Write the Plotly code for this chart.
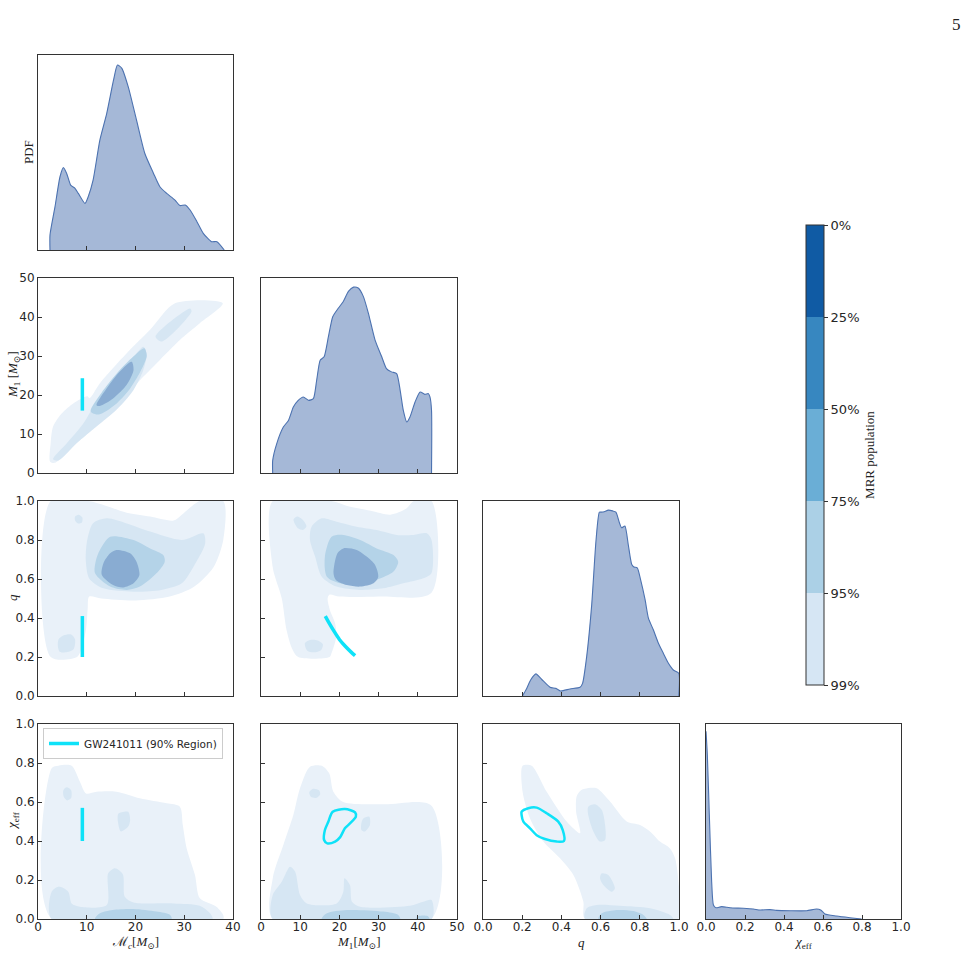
import plotly.graph_objects as go

# ---------------- data ----------------
# diagonal 1D densities (relative PDF)
mc_kde_x = [2.46, 2.46, 3.49, 4.51, 5.2, 5.88, 6.7, 7.59, 8.27, 9.64, 10.3, 11.3, 12.7, 14.1, 15.5, 16.3,
            17.2, 18.5, 20.2, 21.9, 23.7, 25.0, 26.4, 28.1, 29.1, 30.2, 31.2, 32.6, 33.9, 35.6, 36.7, 38.2]
mc_kde_y = [0, 0.081, 0.234, 0.396, 0.445, 0.414, 0.351, 0.333, 0.306, 0.252, 0.288, 0.378, 0.595, 0.739,
            0.919, 1.0, 0.982, 0.883, 0.703, 0.523, 0.414, 0.342, 0.306, 0.27, 0.24, 0.243, 0.216, 0.153,
            0.09, 0.045, 0.045, 0.0]
m1_kde_x = [2.98, 2.98, 4.0, 5.7, 7.0, 8.25, 9.5, 10.8, 12.1, 13.35, 14.2, 15.1, 16.1, 17.2, 18.3, 19.7,
            21.0, 22.3, 23.6, 24.8, 26.1, 27.4, 29.1, 30.8, 32.0, 33.3, 34.6, 35.5, 36.3, 37.2, 38.0, 39.3,
            40.6, 41.8, 42.7, 43.1, 43.5, 43.5]
m1_kde_y = [0, 0.067, 0.157, 0.247, 0.283, 0.355, 0.391, 0.409, 0.391, 0.4, 0.499, 0.607, 0.625, 0.733,
            0.841, 0.886, 0.923, 0.977, 1.0, 0.995, 0.95, 0.859, 0.715, 0.625, 0.562, 0.544, 0.535, 0.445,
            0.337, 0.274, 0.301, 0.382, 0.436, 0.423, 0.427, 0.409, 0.337, 0]
q_kde_x = [0.201, 0.223, 0.243, 0.27, 0.299, 0.342, 0.372, 0.396, 0.444, 0.495, 0.508, 0.529, 0.554, 0.577,
           0.594, 0.605, 0.622, 0.639, 0.661, 0.678, 0.696, 0.707, 0.724, 0.741, 0.759, 0.77, 0.787, 0.804,
           0.827, 0.844, 0.869, 0.895, 0.92, 0.946, 0.971, 0.999, 0.999]
q_kde_y = [0, 0.041, 0.086, 0.119, 0.09, 0.047, 0.041, 0.027, 0.038, 0.047, 0.068, 0.212, 0.482, 0.842,
           0.989, 0.989, 0.993, 1.0, 0.996, 0.989, 0.932, 0.905, 0.914, 0.815, 0.707, 0.694, 0.689, 0.626,
           0.518, 0.419, 0.356, 0.284, 0.23, 0.176, 0.14, 0.122, 0]
chi_kde_x = [0.0, 0.0068, 0.017, 0.029, 0.038, 0.051, 0.080, 0.123, 0.191, 0.243, 0.277, 0.328, 0.362,
             0.431, 0.516, 0.567, 0.588, 0.610, 0.670, 0.738, 0.798]
chi_kde_y = [1.0, 0.875, 0.555, 0.199, 0.075, 0.06, 0.066, 0.06, 0.057, 0.053, 0.048, 0.05, 0.046, 0.044,
             0.044, 0.053, 0.048, 0.027, 0.016, 0.007, 0.0]

# 2D credible-region outlines of the MRR population (x, y) pairs
mc_m1_99 = [(2.5, 2.9), (2.6, 7.6), (3.1, 11.9), (4.9, 15.3), (7.3, 17.9), (10.1, 19.7), (10.6, 19.2),
            (12.7, 23.0), (18.2, 30.7), (23.0, 36.7), (28.1, 43.5), (37.9, 43.5), (33.2, 38.4),
            (29.1, 34.1), (25.0, 29.0), (19.6, 22.1), (14.1, 14.4), (7.9, 7.6), (3.5, 2.6)]
mc_m1_95 = [(3.1, 3.5), (5.9, 7.6), (9.3, 12.7), (11.0, 16.2), (12.7, 19.6), (16.1, 24.7), (19.6, 29.8),
            (21.6, 32.4), (22.3, 30.7), (21.6, 26.4), (19.6, 21.3), (16.1, 16.2), (12.0, 11.9),
            (7.9, 7.6), (4.2, 3.2)]
mc_m1_95b = [(24.1, 35.0), (31.2, 42.2), (31.5, 41.4), (25.4, 33.7)]
mc_m1_75 = [(10.8, 15.8), (13.0, 20.5), (16.5, 26.0), (19.5, 29.8), (21.8, 32.0), (22.3, 30.0),
            (21.0, 26.0), (18.8, 21.5), (15.8, 17.5), (12.5, 15.0)]
mc_m1_50 = [(12.0, 17.4), (14.1, 21.7), (16.8, 26.0), (19.2, 28.5), (19.6, 26.4), (18.2, 22.6),
            (15.4, 19.1), (12.7, 17.2)]

mc_q_99 = [(2.6, 1.0), (10.3, 1.0), (14.0, 0.975), (18.2, 0.94), (23.0, 0.92), (27.8, 0.9), (29.5, 0.93),
           (33.2, 1.0), (38.0, 1.0), (38.0, 0.8), (36.0, 0.66), (32.0, 0.56), (27.0, 0.51), (20.0, 0.49),
           (13.0, 0.5), (10.5, 0.51), (10.2, 0.45), (9.9, 0.35), (9.0, 0.25), (8.0, 0.2), (2.6, 0.2)]
mc_q_95 = [(10.1, 0.8), (11.3, 0.886), (14.1, 0.911), (18.2, 0.885), (23.0, 0.843), (29.5, 0.8),
           (33.9, 0.834), (34.3, 0.783), (31.9, 0.663), (29.5, 0.578), (25.3, 0.544), (19.6, 0.535),
           (13.4, 0.552), (10.5, 0.603), (9.8, 0.697)]
mc_q_95b = [(7.6, 0.92), (8.3, 0.93), (9.1, 0.915), (9.0, 0.89), (8.2, 0.885), (7.6, 0.9)]
mc_q_95c = [(4.2, 0.29), (5.2, 0.31), (6.8, 0.315), (7.6, 0.29), (7.3, 0.24), (6.0, 0.225), (4.5, 0.225),
            (4.1, 0.25)]
mc_q_75 = [(12.7, 0.749), (14.8, 0.817), (19.6, 0.8), (23.0, 0.757), (25.7, 0.723), (26.0, 0.689),
           (24.3, 0.629), (20.9, 0.561), (18.2, 0.544), (14.8, 0.561), (11.7, 0.629), (11.9, 0.697)]
mc_q_50 = [(13.4, 0.68), (14.8, 0.732), (16.1, 0.749), (18.9, 0.732), (20.2, 0.689), (20.8, 0.62),
           (19.6, 0.578), (17.5, 0.557), (15.4, 0.569), (13.1, 0.62)]

mc_chi_99 = [(2.8, 0.0), (2.8, 0.773), (4.2, 0.786), (6.9, 0.786), (8.6, 0.704), (9.85, 0.644),
             (12.0, 0.653), (16.1, 0.653), (20.9, 0.619), (26.4, 0.593), (29.1, 0.576), (29.7, 0.482),
             (30.5, 0.362), (32.2, 0.226), (33.2, 0.106), (36.6, 0.063), (38.0, 0.02), (38.0, 0.0)]
mc_chi_95 = [(2.8, 0.0), (2.8, 0.14), (4.2, 0.166), (6.2, 0.14), (6.9, 0.08), (8.6, 0.063), (14.1, 0.072),
             (14.4, 0.234), (15.8, 0.26), (17.4, 0.229), (17.8, 0.114), (19.6, 0.085), (27.8, 0.08),
             (33.2, 0.068), (35.3, 0.029), (35.8, 0.0)]
mc_chi_95b = [(5.2, 0.66), (5.9, 0.675), (6.8, 0.66), (6.8, 0.62), (6.0, 0.608), (5.3, 0.625)]
mc_chi_95c = [(16.5, 0.541), (18.5, 0.55), (18.9, 0.508), (18.5, 0.474), (17.0, 0.449), (16.4, 0.499)]
mc_chi_75 = [(11.7, 0.0), (12.7, 0.029), (15.3, 0.046), (19.6, 0.051), (24.3, 0.038), (27.1, 0.021),
             (27.4, 0.0)]

m1_q_99 = [(3.0, 1.0), (18.0, 1.0), (22.0, 0.975), (28.0, 0.95), (33.0, 0.93), (37.0, 0.96), (39.0, 1.0),
           (43.5, 1.0), (43.5, 0.53), (30.0, 0.51), (20.0, 0.51), (17.5, 0.52), (17.0, 0.5), (17.6, 0.44),
           (18.9, 0.373), (19.2, 0.304), (18.0, 0.22), (17.5, 0.2), (9.5, 0.2), (8.0, 0.24), (6.5, 0.34),
           (5.3, 0.5), (3.6, 0.61), (3.0, 0.66)]
m1_q_95 = [(12.9, 0.868), (15.5, 0.911), (19.3, 0.894), (24.4, 0.868), (29.5, 0.851), (34.6, 0.826),
           (38.9, 0.826), (42.3, 0.834), (43.5, 0.8), (43.5, 0.63), (41.4, 0.604), (36.3, 0.578),
           (31.2, 0.552), (25.3, 0.544), (19.3, 0.561), (15.5, 0.612), (13.8, 0.715), (12.5, 0.8)]
m1_q_95b = [(8.3, 0.905), (9.3, 0.92), (10.8, 0.9), (11.6, 0.87), (10.8, 0.852), (9.4, 0.86)]
m1_q_95c = [(11.2, 0.27), (12.5, 0.287), (14.5, 0.285), (15.8, 0.265), (15.3, 0.235), (13.5, 0.224),
            (11.8, 0.232)]
m1_q_75 = [(16.3, 0.715), (18.0, 0.817), (21.0, 0.826), (25.3, 0.8), (29.5, 0.757), (33.8, 0.723),
           (35.0, 0.689), (33.8, 0.638), (29.5, 0.595), (25.3, 0.569), (20.2, 0.578), (16.8, 0.612)]
m1_q_50 = [(18.5, 0.629), (19.5, 0.732), (21.0, 0.757), (24.4, 0.749), (26.95, 0.715), (29.1, 0.672),
           (29.9, 0.61), (28.7, 0.578), (25.3, 0.561), (21.9, 0.569), (19.1, 0.595)]

m1_chi_99 = [(3.0, 0.0), (3.0, 0.209), (5.7, 0.379), (8.25, 0.533), (9.95, 0.67), (12.5, 0.781),
             (15.5, 0.786), (17.4, 0.747), (18.45, 0.653), (21.0, 0.6), (31.2, 0.588), (43.5, 0.581),
             (43.5, 0.0)]
m1_chi_95 = [(3.0, 0.0), (3.0, 0.123), (5.3, 0.191), (7.4, 0.268), (8.7, 0.243), (9.95, 0.123),
             (11.7, 0.08), (19.3, 0.08), (21.0, 0.14), (21.3, 0.209), (22.7, 0.174), (23.2, 0.089),
             (25.3, 0.063), (38.0, 0.068), (41.4, 0.089), (43.5, 0.097), (43.5, 0.0)]
m1_chi_95b = [(12.3, 0.65), (13.3, 0.668), (14.8, 0.66), (15.1, 0.64), (14.2, 0.622), (12.8, 0.625)]
m1_chi_95c = [(26.1, 0.516), (27.6, 0.525), (27.8, 0.482), (26.5, 0.449), (25.6, 0.457), (25.6, 0.491)]
m1_chi_75 = [(15.5, 0.0), (16.8, 0.029), (21.9, 0.046), (31.2, 0.038), (35.0, 0.021), (35.5, 0.0)]
m1_chi_75b = [(39.5, 0.0), (40.2, 0.015), (42.5, 0.015), (43.0, 0.0)]

q_chi_99 = [(0.202, 0.786), (0.248, 0.786), (0.325, 0.653), (0.427, 0.5), (0.495, 0.44), (0.475, 0.55),
            (0.478, 0.63), (0.50, 0.66), (0.52, 0.668), (0.58, 0.67), (0.648, 0.602), (0.733, 0.5),
            (0.801, 0.482), (0.852, 0.449), (0.903, 0.397), (0.954, 0.362), (0.98, 0.311),
            (0.997, 0.191), (0.997, 0.0), (0.52, 0.0), (0.512, 0.089), (0.461, 0.226), (0.393, 0.311),
            (0.308, 0.397), (0.24, 0.516), (0.202, 0.653)]
q_chi_95 = [(0.52, 0.0), (0.529, 0.055), (0.58, 0.072), (0.699, 0.068), (0.852, 0.055), (0.954, 0.021),
            (0.971, 0.0)]
q_chi_95b = [(0.537, 0.576), (0.571, 0.588), (0.606, 0.559), (0.623, 0.482), (0.623, 0.405),
             (0.597, 0.397), (0.563, 0.449), (0.537, 0.533)]
q_chi_95c = [(0.606, 0.234), (0.639, 0.226), (0.673, 0.157), (0.656, 0.14), (0.614, 0.174), (0.597, 0.209)]
q_chi_75 = [(0.589, 0.0), (0.606, 0.029), (0.682, 0.046), (0.767, 0.041), (0.818, 0.021), (0.835, 0.0)]

# GW241011 90% credible region
gw_mc = [9.1, 9.1]
gw_m1_vs_mc = [16.0, 24.3]
gw_q_vs_mc = [0.2, 0.41]
gw_chi_vs_mc = [0.4, 0.57]
gw_m1_curve = [16.4, 17.5, 18.7, 20.0, 21.5, 23.0, 24.0]
gw_q_curve = [0.41, 0.37, 0.33, 0.29, 0.255, 0.225, 0.207]
gw_m1_chi = [(18.3, 0.55), (21.4, 0.564), (24.0, 0.547), (24.2, 0.525), (22.7, 0.49), (21.4, 0.465),
             (20.2, 0.42), (18.9, 0.397), (16.9, 0.388), (16.1, 0.405), (16.3, 0.456), (17.2, 0.5)]
gw_q_chi = [(0.197, 0.55), (0.231, 0.568), (0.274, 0.571), (0.325, 0.542), (0.384, 0.499), (0.407, 0.456),
            (0.413, 0.4), (0.376, 0.397), (0.316, 0.41), (0.274, 0.43), (0.24, 0.465), (0.206, 0.499),
            (0.197, 0.533)]

cbar_ticktext = ['99%', '95%', '75%', '50%', '25%', '0%']
cbar_colors = ['#d6e6f4', '#abd0e6', '#6aaed6', '#3787c0', '#105ba4']

axis_ranges = [[0, 40], [0, 50], [0, 1], [0, 1]]
axis_ticks = [[0, 10, 20, 30, 40], [0, 10, 20, 30, 40, 50], [0, 0.2, 0.4, 0.6, 0.8, 1.0],
              [0, 0.2, 0.4, 0.6, 0.8, 1.0]]
diag_tops = [1.054, 1.049, 1.049, 1.039]

# ---------------- styling ----------------
W, H = 973, 954
LV = {99: 'rgb(233,241,249)', 95: 'rgb(214,230,243)', 75: 'rgb(180,211,232)', 50: 'rgb(137,172,210)'}
CYAN = '#0ee2f8'
KDE_LINE = '#4c72b0'
KDE_FILL = 'rgba(76,114,176,0.5)'
FRAME = '#333333'
TICKFONT = dict(family='DejaVu Sans', size=12, color='#262626')
SERIF = 'Liberation Serif, DejaVu Serif, serif'

xdom_px = [[38, 233], [261, 457], [483, 679], [706, 901]]
ydom_px = [[55, 250], [278, 473], [501, 696], [724, 919]]

panels = [(0, 0), (1, 0), (1, 1), (2, 0), (2, 1), (2, 2), (3, 0), (3, 1), (3, 2), (3, 3)]
pid = {rc: i + 1 for i, rc in enumerate(panels)}

fig = go.Figure()


def axref(r, c):
    k = pid[(r, c)]
    return ('x' if k == 1 else f'x{k}'), ('y' if k == 1 else f'y{k}')


def poly(r, c, pts, color):
    xa, ya = axref(r, c)
    xs = [p[0] for p in pts] + [pts[0][0]]
    ys = [p[1] for p in pts] + [pts[0][1]]
    fig.add_trace(go.Scatter(x=xs, y=ys, mode='lines', fill='toself', fillcolor=color,
                             line=dict(width=0, shape='spline', smoothing=0.8), hoverinfo='skip',
                             showlegend=False, xaxis=xa, yaxis=ya))


def kde(r, c, xs, ys):
    xa, ya = axref(r, c)
    fig.add_trace(go.Scatter(x=xs, y=ys, mode='lines', fill='tozeroy', fillcolor=KDE_FILL,
                             line=dict(color=KDE_LINE, width=1.1, shape='spline', smoothing=0.6),
                             hoverinfo='skip', showlegend=False, xaxis=xa, yaxis=ya))


def gwline(r, c, xs, ys, closed=False, legend=False, width=3.5):
    xa, ya = axref(r, c)
    if closed:
        xs = list(xs) + [xs[0]]
        ys = list(ys) + [ys[0]]
    fig.add_trace(go.Scatter(x=xs, y=ys, mode='lines',
                             line=dict(color=CYAN, width=width, shape='spline', smoothing=0.8),
                             name='GW241011 (90% Region)', showlegend=legend, legendgroup='gw',
                             hoverinfo='skip', xaxis=xa, yaxis=ya))


# diagonal
kde(0, 0, mc_kde_x, mc_kde_y)
kde(1, 1, m1_kde_x, m1_kde_y)
kde(2, 2, q_kde_x, q_kde_y)
kde(3, 3, chi_kde_x, chi_kde_y)

# Mc - M1
poly(1, 0, mc_m1_99, LV[99])
poly(1, 0, mc_m1_95, LV[95])
poly(1, 0, mc_m1_95b, LV[95])
poly(1, 0, mc_m1_75, LV[75])
poly(1, 0, mc_m1_50, LV[50])
gwline(1, 0, gw_mc, gw_m1_vs_mc)

# Mc - q
poly(2, 0, mc_q_99, LV[99])
poly(2, 0, mc_q_95, LV[95])
poly(2, 0, mc_q_95b, LV[95])
poly(2, 0, mc_q_95c, LV[95])
poly(2, 0, mc_q_75, LV[75])
poly(2, 0, mc_q_50, LV[50])
gwline(2, 0, gw_mc, gw_q_vs_mc)

# Mc - chi
poly(3, 0, mc_chi_99, LV[99])
poly(3, 0, mc_chi_95, LV[95])
poly(3, 0, mc_chi_95b, LV[95])
poly(3, 0, mc_chi_95c, LV[95])
poly(3, 0, mc_chi_75, LV[75])
gwline(3, 0, gw_mc, gw_chi_vs_mc, legend=True)

# M1 - q
poly(2, 1, m1_q_99, LV[99])
poly(2, 1, m1_q_95, LV[95])
poly(2, 1, m1_q_95b, LV[95])
poly(2, 1, m1_q_95c, LV[95])
poly(2, 1, m1_q_75, LV[75])
poly(2, 1, m1_q_50, LV[50])
gwline(2, 1, gw_m1_curve, gw_q_curve)

# M1 - chi
poly(3, 1, m1_chi_99, LV[99])
poly(3, 1, m1_chi_95, LV[95])
poly(3, 1, m1_chi_95b, LV[95])
poly(3, 1, m1_chi_95c, LV[95])
poly(3, 1, m1_chi_75, LV[75])
poly(3, 1, m1_chi_75b, LV[75])
gwline(3, 1, [p[0] for p in gw_m1_chi], [p[1] for p in gw_m1_chi], closed=True, width=2.5)

# q - chi
poly(3, 2, q_chi_99, LV[99])
poly(3, 2, q_chi_95, LV[95])
poly(3, 2, q_chi_95b, LV[95])
poly(3, 2, q_chi_95c, LV[95])
poly(3, 2, q_chi_75, LV[75])
gwline(3, 2, [p[0] for p in gw_q_chi], [p[1] for p in gw_q_chi], closed=True, width=2.5)

# colorbar (discrete levels)
n = len(cbar_colors)
cscale = []
for i, col in enumerate(cbar_colors):
    cscale.append([i / n, col])
    cscale.append([(i + 1) / n, col])
fig.add_trace(go.Scatter(
    x=[None], y=[None], mode='markers', showlegend=False, hoverinfo='skip', xaxis='x', yaxis='y',
    marker=dict(color=[0], cmin=0, cmax=n, colorscale=cscale, showscale=True,
                colorbar=dict(thickness=18, thicknessmode='pixels', len=460, lenmode='pixels',
                              x=806 / W, xanchor='left', xpad=0, y=1 - 455 / H, yanchor='middle', ypad=0,
                              outlinewidth=1, outlinecolor=FRAME,
                              tickvals=list(range(n + 1)), ticktext=cbar_ticktext,
                              ticks='outside', ticklen=4, tickcolor=FRAME,
                              tickfont=dict(family='DejaVu Sans', size=13, color='#262626'),
                              title=dict(text='MRR population', side='right',
                                         font=dict(family=SERIF, size=13, color='#222'))))))

layout = dict(width=W, height=H, margin=dict(l=0, r=0, t=0, b=0, pad=0, autoexpand=False),
              paper_bgcolor='white', plot_bgcolor='white', showlegend=True,
              legend=dict(x=43 / W, y=1 - 728 / H, xanchor='left', yanchor='top', bgcolor='white',
                          bordercolor='#cccccc', borderwidth=1, font=dict(family='DejaVu Sans', size=10.5,
                                                                          color='#262626'),
                          itemwidth=30, tracegroupgap=0))

for (r, c) in panels:
    k = pid[(r, c)]
    xn = 'xaxis' if k == 1 else f'xaxis{k}'
    yn = 'yaxis' if k == 1 else f'yaxis{k}'
    xd = [xdom_px[c][0] / W, xdom_px[c][1] / W]
    yd = [1 - ydom_px[r][1] / H, 1 - ydom_px[r][0] / H]
    common = dict(showline=True, mirror=True, linecolor=FRAME, linewidth=1, showgrid=False,
                  zeroline=False, ticks='inside', ticklen=4, tickcolor=FRAME, tickfont=TICKFONT,
                  automargin=False)
    xax = dict(common, domain=xd, range=axis_ranges[c], tickvals=axis_ticks[c],
               showticklabels=(r == 3), anchor=('y' if k == 1 else f'y{k}'))
    if r == 3:
        xax['ticklabelstandoff'] = -3
    if c >= 2:
        xax['tickformat'] = '.1f'
    if r == c:
        yax = dict(common, domain=yd, range=[0, diag_tops[r]], showticklabels=False, ticks='',
                   anchor=('x' if k == 1 else f'x{k}'))
    else:
        yax = dict(common, domain=yd, range=axis_ranges[r], tickvals=axis_ticks[r],
                   showticklabels=(c == 0), anchor=('x' if k == 1 else f'x{k}'))
        if r >= 2:
            yax['tickformat'] = '.1f'
    layout[xn] = xax
    layout[yn] = yax

fig.update_layout(**layout)

# axis titles
tfont = dict(family=SERIF, size=13, color='#222')
ann = [
    dict(text='PDF', x=28 / W, y=1 - 152 / H, textangle=-90),
    dict(text='<i>M</i><sub>1</sub> [<i>M</i><sub>⊙</sub>]', x=13 / W, y=1 - 375 / H, textangle=-90),
    dict(text='<i>q</i>', x=12 / W, y=1 - 598 / H, textangle=-90),
    dict(text='<i>χ</i><sub>eff</sub>', x=12 / W, y=1 - 821 / H, textangle=-90),
    dict(text='ℳ<sub><i>c</i></sub>[<i>M</i><sub>⊙</sub>]', x=135 / W, y=1 - 942 / H),
    dict(text='<i>M</i><sub>1</sub>[<i>M</i><sub>⊙</sub>]', x=359 / W, y=1 - 942 / H),
    dict(text='<i>q</i>', x=581 / W, y=1 - 942 / H),
    dict(text='<i>χ</i><sub>eff</sub>', x=803 / W, y=1 - 942 / H),
]
for a in ann:
    fig.add_annotation(xref='paper', yref='paper', showarrow=False, xanchor='center', yanchor='middle',
                       font=tfont, **a)
fig.add_annotation(text='5', xref='paper', yref='paper', x=963 / W, y=1 - 13 / H, showarrow=False,
                   font=dict(family=SERIF, size=17, color='#222'))

fig.write_html('out.html')
